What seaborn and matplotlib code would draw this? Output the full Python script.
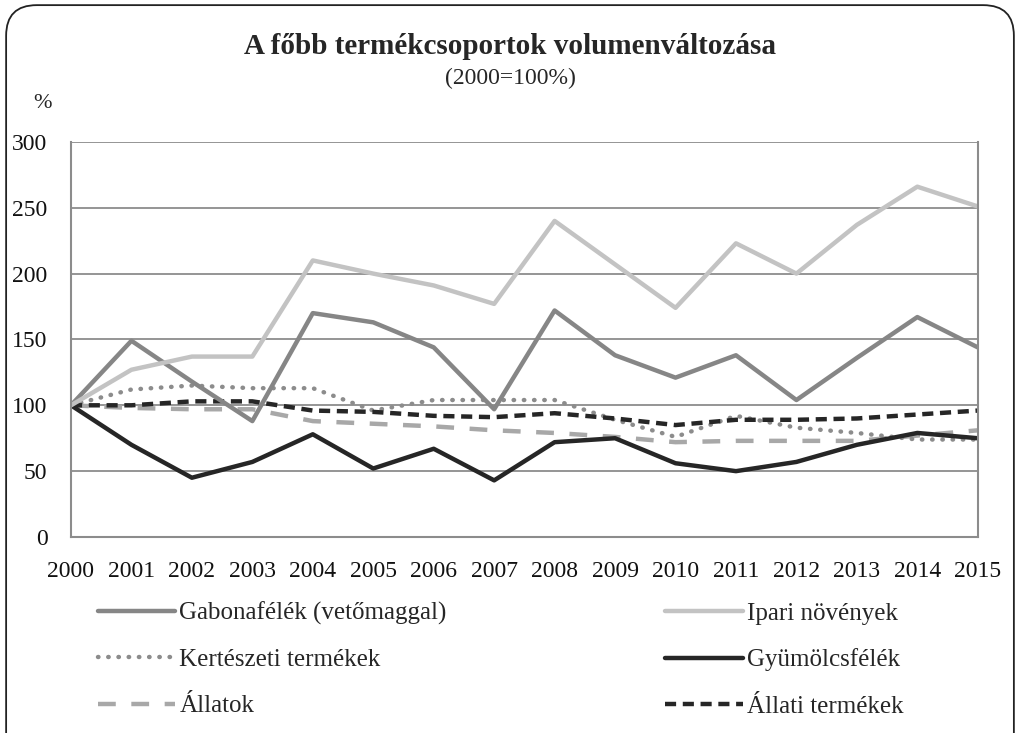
import pandas as pd
import matplotlib.pyplot as plt
import seaborn as sns
from matplotlib.patches import FancyBboxPatch

# Adatok (2000=100%)
evek = list(range(2000, 2016))
gabona = [100, 149, 118, 88, 170, 163, 144, 97, 172, 138, 121, 138, 104, 136, 167, 144]
ipari = [100, 127, 137, 137, 210, 200, 191, 177, 240, 207, 174, 223, 200, 237, 266, 251]
kerteszeti = [100, 112, 115, 113, 113, 96, 104, 104, 104, 89, 76, 92, 83, 79, 74, 74]
gyumolcs = [100, 70, 45, 57, 78, 52, 67, 43, 72, 75, 56, 50, 57, 70, 79, 75]
allatok = [100, 98, 97, 97, 88, 86, 84, 81, 79, 76, 72, 73, 73, 73, 77, 81]
allati_termekek = [100, 100, 103, 103, 96, 95, 92, 91, 94, 90, 85, 89, 89, 90, 93, 96]

sorozatok = {
    'Gabonafélék (vetőmaggal)': gabona,
    'Kertészeti termékek': kerteszeti,
    'Állatok': allatok,
    'Ipari növények': ipari,
    'Gyümölcsfélék': gyumolcs,
    'Állati termékek': allati_termekek,
}
stilusok = {
    'Gabonafélék (vetőmaggal)': dict(color='#868686', ls='-'),
    'Kertészeti termékek': dict(color='#8c8c8c', ls=(0, (0.1, 2.2))),
    'Állatok': dict(color='#a8a8a8', ls=(0, (4, 3.5))),
    'Ipari növények': dict(color='#c3c3c3', ls='-'),
    'Gyümölcsfélék': dict(color='#262626', ls='-'),
    'Állati termékek': dict(color='#262626', ls=(0, (2.5, 1.5))),
}

df = pd.DataFrame({'Év': evek, **sorozatok})
df_long = df.melt(id_vars='Év', var_name='Csoport', value_name='Érték')

sns.set_style('white')
plt.rcParams['font.family'] = ['Liberation Serif', 'DejaVu Serif']

fig = plt.figure(figsize=(10.2, 7.33), dpi=100)
ax = fig.add_axes([0.0696, 0.2674, 0.889, 0.539])

# a vonalak rajzolási sorrendje
rajz_sorrend = ['Állatok', 'Kertészeti termékek', 'Állati termékek', 'Gyümölcsfélék',
                'Gabonafélék (vetőmaggal)', 'Ipari növények']
vonalak = {}
for nev in rajz_sorrend:
    st = stilusok[nev]
    sns.lineplot(data=df_long[df_long['Csoport'] == nev], x='Év', y='Érték', ax=ax,
                 color=st['color'], linestyle=st['ls'], linewidth=3.2,
                 dash_capstyle='round' if nev == 'Kertészeti termékek' else 'butt',
                 label=nev, legend=False)
    vonalak[nev] = ax.lines[-1]

ax.set_xlim(2000, 2015)
ax.set_ylim(0, 300)
ax.set_xticks(evek)
ax.set_yticks(range(0, 301, 50))
ax.set_xlabel('')
ax.set_ylabel('')
ax.grid(axis='y', color='#8c8c8c', linewidth=1.3)
ax.set_axisbelow(True)
for s in ['left', 'bottom', 'right']:
    ax.spines[s].set_color('#8c8c8c')
    ax.spines[s].set_linewidth(1.5)
ax.spines['top'].set_visible(False)
ax.tick_params(axis='both', direction='out', length=6, width=1.3, color='#8c8c8c',
               labelsize=17, labelcolor='#111111')
ax.tick_params(axis='y', pad=11)
ax.tick_params(axis='x', pad=11)

fig.text(0.5, 0.937, 'A főbb termékcsoportok volumenváltozása', ha='center', va='center',
         fontsize=21, fontweight='bold')
fig.text(0.5, 0.893, '(2000=100%)', ha='center', va='center', fontsize=17)
fig.text(0.042, 0.859, '%', ha='center', va='center', fontsize=16)

leg_sorrend = ['Gabonafélék (vetőmaggal)', 'Kertészeti termékek', 'Állatok',
               'Ipari növények', 'Gyümölcsfélék', 'Állati termékek']
fig.legend([vonalak[n] for n in leg_sorrend], leg_sorrend, ncol=2, loc='upper left',
           bbox_to_anchor=(0.074, 0.21), frameon=False, fontsize=18,
           handlelength=3.1, handletextpad=0.15, columnspacing=8.75, labelspacing=0.95)

# lekerekített keret
keret = FancyBboxPatch((0.006, -0.05), 0.988, 1.043, boxstyle='round,pad=0,rounding_size=0.03',
                       transform=fig.transFigure, facecolor='none', edgecolor='#222222',
                       linewidth=1.3, mutation_aspect=1.39)
fig.patches.append(keret)

fig.savefig('out.png', dpi=100)
